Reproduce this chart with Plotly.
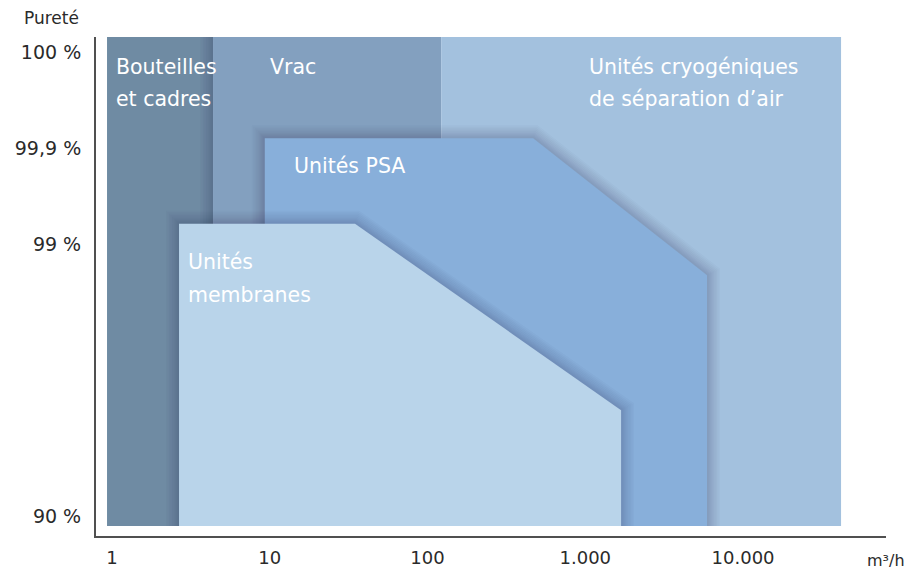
import numpy as np
import plotly.graph_objects as go

# ---- data (flow in m3/h on log axis; y in nominal purity-scale units 0..100) ----
tick_flow = [1, 10, 100, 1000, 10000]
tick_flow_text = ["1", "10", "100", "1.000", "10.000"]
purity_pos = [2.0, 57.7, 77.3, 96.9]
purity_text = ["90 %", "99 %", "99,9 %", "100 %"]

bottles_x = [0.93, 0.93, 4.37, 4.37]
bottles_y = [0, 100, 100, 0]
vrac_x = [4.37, 4.37, 122, 122]
vrac_y = [0, 100, 100, 0]
cryo_x = [122, 122, 41800, 41800]
cryo_y = [0, 100, 100, 0]
psa_x = [9.3, 9.3, 467, 5910, 5910]
psa_y = [0, 79.3, 79.3, 51.3, 0]
memb_x = [2.66, 2.66, 34.7, 1686, 1686]
memb_y = [0, 61.8, 61.8, 23.7, 0]

labels = [
    ("Bouteilles", 1.03, 93.9), ("et cadres", 1.03, 87.3),
    ("Vrac", 9.7, 93.9),
    ("Unités cryogéniques", 1030, 93.9), ("de séparation d’air", 1030, 87.4),
    ("Unités PSA", 13.8, 73.6),
    ("Unités", 2.94, 54.0), ("membranes", 2.94, 47.2),
]

FONT = "DejaVu Sans, Liberation Sans, sans-serif"
SHADOW_WIDTHS = [26, 23, 20, 17, 14, 11, 9, 7, 5, 3]

fig = go.Figure()


def add_shadow(xs, ys):
    for w in SHADOW_WIDTHS:
        fig.add_trace(go.Scatter(x=list(xs), y=list(ys), mode="lines",
                                 line=dict(width=w, color="rgba(35,55,85,0.022)"),
                                 hoverinfo="skip", showlegend=False))


def add_region(xs, ys, col):
    fig.add_trace(go.Scatter(x=xs, y=ys, fill="toself", fillcolor=col, mode="lines",
                             line=dict(width=0, color=col), hoverinfo="skip",
                             showlegend=False))


add_region(bottles_x, bottles_y, "#6f8ba3")
add_shadow(vrac_x[:2], vrac_y[:2])
add_region(vrac_x, vrac_y, "#83a0bf")
add_region(cryo_x, cryo_y, "#a3c1de")
add_shadow(psa_x, psa_y)
add_region(psa_x, psa_y, "#88afda")
add_shadow(memb_x, memb_y)
add_region(memb_x, memb_y, "#b9d4ea")

for txt, x, y in labels:
    fig.add_annotation(x=np.log10(x), y=y, xref="x", yref="y", text=txt, showarrow=False,
                       xanchor="left", yanchor="middle",
                       font=dict(family=FONT, size=20.5, color="white"))

# page body has an 8px margin: the figure is sized so that it fits the window
L, T, W, H = 88, 29, 907, 561
PW = 790
fig.add_annotation(x=(14 - L) / PW, y=1.0, xref="paper", yref="paper", xanchor="left",
                   yanchor="bottom", text="Pureté", showarrow=False, yshift=7,
                   font=dict(family=FONT, size=17, color="#2a2a2a"))
fig.add_annotation(x=(857 - L) / PW, y=0, xref="paper", yref="paper", xanchor="left",
                   yanchor="top", text="m³/h", showarrow=False, yshift=-13,
                   font=dict(family=FONT, size=16, color="#2a2a2a"))

axis_common = dict(showgrid=False, zeroline=False, showline=True, linecolor="#505050",
                   linewidth=2, ticks="", automargin=False)
fig.update_xaxes(type="log", range=[-0.1014, 4.906], tickvals=tick_flow,
                 ticktext=tick_flow_text, ticklabelstandoff=4,
                 tickfont=dict(family=FONT, size=18, color="#2a2a2a"), **axis_common)
fig.update_yaxes(range=[-2.04, 100], tickvals=purity_pos, ticktext=purity_text,
                 ticklabelstandoff=9,
                 tickfont=dict(family=FONT, size=19, color="#2a2a2a"), **axis_common)
fig.update_layout(width=W, height=H, margin=dict(l=L, r=W - L - PW, t=T, b=33),
                  plot_bgcolor="white", paper_bgcolor="white")
fig.write_html("out.html")
